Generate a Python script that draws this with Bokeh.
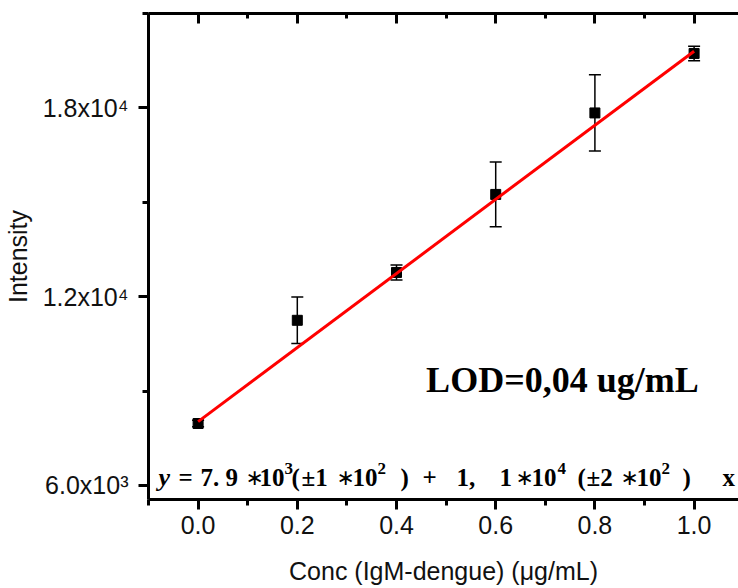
from bokeh.plotting import figure
from bokeh.models import (LinearAxis, FixedTicker, Whisker, ColumnDataSource,
                          Label, Range1d, TeeHead)
from bokeh.embed import file_html
from bokeh.resources import INLINE

# ---- data ----
conc = [0.0, 0.2, 0.4, 0.6, 0.8, 1.0]
intensity = [7970, 11250, 12770, 15250, 17840, 19730]
error = [100, 740, 240, 1030, 1210, 230]

fit_x = [0.0, 1.0]
fit_y = [8030, 19800]

x_ticks = [0.0, 0.2, 0.4, 0.6, 0.8, 1.0]
x_minor = [-0.1, 0.1, 0.3, 0.5, 0.7, 0.9, 1.1]
x_labels = ["0.0", "0.2", "0.4", "0.6", "0.8", "1.0"]

y_ticks = [6000, 12000, 18000]
y_minor = [9000, 15000, 21000]
y_labels = ["6.0x10³", "1.2x10⁴", "1.8x10⁴"]

lod_text = "LOD=0,04 ug/mL"

# equation tokens: text, kind  (kind: v=variable, n=normal, s=superscript, o=operator asterisk)
eq_text = ["y", "=", "7. 9", "∗", "10", "3", "(", "±1", "∗", "10", "2", ")",
           "+", "1,", "1", "∗", "10", "4", "(", "±2", "∗", "10", "2", ")", "x"]
eq_kind = ["v", "n", "n", "o", "n", "s", "n", "n", "o", "n", "s", "n",
           "n", "n", "n", "o", "n", "s", "n", "n", "o", "n", "s", "n", "n"]
# horizontal placement of each token (screen px in the 738x588 picture)
eq_px = [158, 178, 200, 245, 259, 284, 291, 301, 336, 352, 377, 400,
         422, 456, 499, 515, 531, 557, 577, 586, 620, 636, 661, 682, 722]

# ---- figure ----
X0, X1 = -0.1, 1.0895
Y0, Y1 = 5555, 21000
LEFT, FRAME_W = 148, 590
p = figure(width=738, height=588, output_backend="svg", toolbar_location=None,
           x_range=Range1d(X0, X1), y_range=Range1d(Y0, Y1),
           x_axis_location=None, y_axis_location=None,
           min_border_left=LEFT, min_border_right=0, min_border_top=13,
           min_border_bottom=89)
p.outline_line_color = None
p.xgrid.visible = False
p.ygrid.visible = False
p.background_fill_color = "white"
p.border_fill_color = "white"

FONT = "Liberation Sans"

xb = LinearAxis(ticker=FixedTicker(ticks=x_ticks, minor_ticks=x_minor),
                axis_label="Conc (IgM-dengue) (μg/mL)")
xb.major_label_overrides = {t: l for t, l in zip(x_ticks, x_labels)}
yl = LinearAxis(ticker=FixedTicker(ticks=y_ticks, minor_ticks=y_minor),
                axis_label="Intensity")
yl.major_label_overrides = {t: l for t, l in zip(y_ticks, y_labels)}
xt = LinearAxis(ticker=FixedTicker(ticks=x_ticks, minor_ticks=x_minor))

for ax in (xb, yl, xt):
    ax.axis_line_width = 3
    ax.axis_line_color = "black"
    ax.major_tick_line_width = 3
    ax.minor_tick_line_width = 3
    ax.major_label_text_font = FONT
    ax.major_label_text_font_size = "25px"
    ax.major_label_text_color = "#111111"
    ax.axis_label_text_font = FONT
    ax.axis_label_text_font_size = "25px"
    ax.axis_label_text_font_style = "normal"
    ax.axis_label_text_color = "#111111"

xb.major_tick_in = 0
xb.major_tick_out = 10
xb.minor_tick_in = 0
xb.minor_tick_out = 6
xb.major_label_standoff = 6
xb.axis_label_standoff = 20

yl.major_tick_in = 0
yl.major_tick_out = 10
yl.minor_tick_in = 0
yl.minor_tick_out = 6
yl.major_label_standoff = 10
yl.axis_label_standoff = 8

xt.major_tick_in = 10
xt.major_tick_out = 0
xt.minor_tick_in = 5
xt.minor_tick_out = 0
xt.major_label_text_font_size = "0px"
xt.major_label_standoff = 0
xt.major_label_text_alpha = 0

p.add_layout(xb, "below")
p.add_layout(yl, "left")
p.add_layout(xt, "above")

# ---- error bars, points, fit ----
src = ColumnDataSource(dict(
    x=conc, y=intensity,
    upper=[v + e for v, e in zip(intensity, error)],
    lower=[v - e for v, e in zip(intensity, error)],
))
wh = Whisker(base="x", upper="upper", lower="lower", source=src,
             line_color="black", line_width=1.5,
             upper_head=TeeHead(size=12, line_width=1.5, line_color="black"),
             lower_head=TeeHead(size=12, line_width=1.5, line_color="black"))
p.add_layout(wh)
p.scatter("x", "y", source=src, marker="square", size=10,
          fill_color="black", line_color="black")
p.line(fit_x, fit_y, line_color="red", line_width=3)

# ---- annotations ----
p.add_layout(Label(x=0.4597, y=9340, text=lod_text,
                   text_font="Liberation Serif", text_font_style="bold",
                   text_font_size="36px", text_color="black",
                   text_baseline="alphabetic"))

EQ_Y = 6254          # baseline of the equation (data units)
for t, k, px in zip(eq_text, eq_kind, eq_px):
    xd = X0 + (px - LEFT) / FRAME_W * (X1 - X0)
    font, style, size, yoff = "Liberation Serif", "bold", "25px", 0
    if k == "v":
        style = "bold italic"
        size = "26px"
    elif k == "s":
        size, yoff = "17px", 9
    elif k == "o":
        font, style, size, yoff = "DejaVu Sans", "normal", "22px", 0
    p.add_layout(Label(x=xd, y=EQ_Y, y_offset=yoff, text=t,
                       text_font=font, text_font_style=style,
                       text_font_size=size, text_color="black",
                       text_baseline="alphabetic"))

open("out.html", "w").write(file_html(p, INLINE))
